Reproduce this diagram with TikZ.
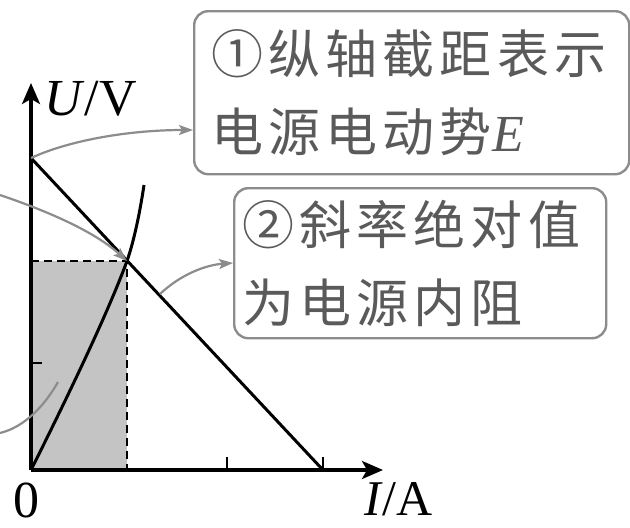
\documentclass[tikz,border=0pt]{standalone}
\usepackage{fontspec}
\setmainfont{Liberation Serif}
\newfontfamily\cjk[LetterSpace=10]{Noto Sans CJK SC}
\usetikzlibrary{arrows.meta}
\definecolor{boxgray}{RGB}{140,140,140}
\definecolor{textgray}{RGB}{90,90,90}
\definecolor{areagray}{RGB}{196,196,196}

\begin{document}
\begin{tikzpicture}[x=1pt, y=-1pt,
  axis/.style={line width=3.2pt, -{Stealth[length=21pt, width=18pt, inset=5pt]}},
  graph/.style={line width=3pt},
  pointer/.style={boxgray, line width=2.2pt, -{Stealth[length=14pt, width=10pt, inset=3pt]}},
  note/.style={draw=boxgray, line width=2.4pt, rounded corners=14pt, text=textgray,
    font=\cjk\fontsize{52}{78}\selectfont, align=left, anchor=north west, inner ysep=0pt},
  lbl/.style={font=\fontsize{52}{60}\selectfont, inner sep=0pt}]

\useasboundingbox (0,0) rectangle (630,528);

% Shaded area under the working point
\fill[areagray] (31,261) rectangle (127,470);

% Points on the graph
\coordinate (O) at (31,470);
\coordinate (E) at (31,158);
\coordinate (P) at (127,261);
\coordinate (Ishort) at (323,470);
\coordinate (Imid) at (227,470);
\coordinate (Utick) at (31,363);
\coordinate (Pbase) at (127,470);
\coordinate (Pleft) at (31,261);

% Axes
\draw[axis] (O) -- (31,83) coordinate (Utop);
\draw[axis] (O) -- (383,470) coordinate (Iend);
\node[lbl, anchor=base west] (ulabel) at (44,115) {\textit{U}/V};
\node[lbl, anchor=base west, font=\fontsize{50}{60}\selectfont] (ilabel) at (364,515) {\textit{I}/A};
\node[lbl, anchor=base] (zero) at (26,517) {0};

% Ticks
\draw[line width=2.8pt] (Utick) -- ++(11,0);
\draw[line width=2.8pt] (Imid) -- ++(0,-13);
\draw[line width=2.8pt] (Ishort) -- ++(0,-13);

% Dashed lines to the working point
\draw[line width=2.8pt, dash pattern=on 8pt off 5pt] (Pleft) -- (P) -- (Pbase);

% Source line and resistor curve
\draw[graph] (E) -- (Ishort);
\draw[graph] (O) .. controls (62,408) and (106,318) .. (P)
  .. controls (134,241) and (140,212) .. (144,185);

% Notes
\node[note, inner xsep=17pt, text width=401pt, minimum height=163pt] (note1) at (193,10)
  {①纵轴截距表示\\电源电动势{\rmfamily\itshape E}};
\node[note, inner xsep=8pt, text width=356pt, minimum height=150pt] (note2) at (233,187)
  {②斜率绝对值\\为电源内阻};

% Pointers
\coordinate (from1) at (0,195);
\coordinate (from2) at (0,433);
\coordinate (to2) at (58,382);
\coordinate (online) at (160,294);
\draw[pointer] (E) .. controls (70,140) and (130,130) .. (note1.west |- 0,130);
\draw[pointer] (from1) .. controls (50,212) and (95,232) .. (P);
\draw[boxgray, line width=2.2pt] (from2) .. controls (25,427) and (45,405) .. (to2);
\draw[pointer] (online) .. controls (180,275) and (205,265) .. (note2.west |- 0,263);

\end{tikzpicture}
\end{document}
